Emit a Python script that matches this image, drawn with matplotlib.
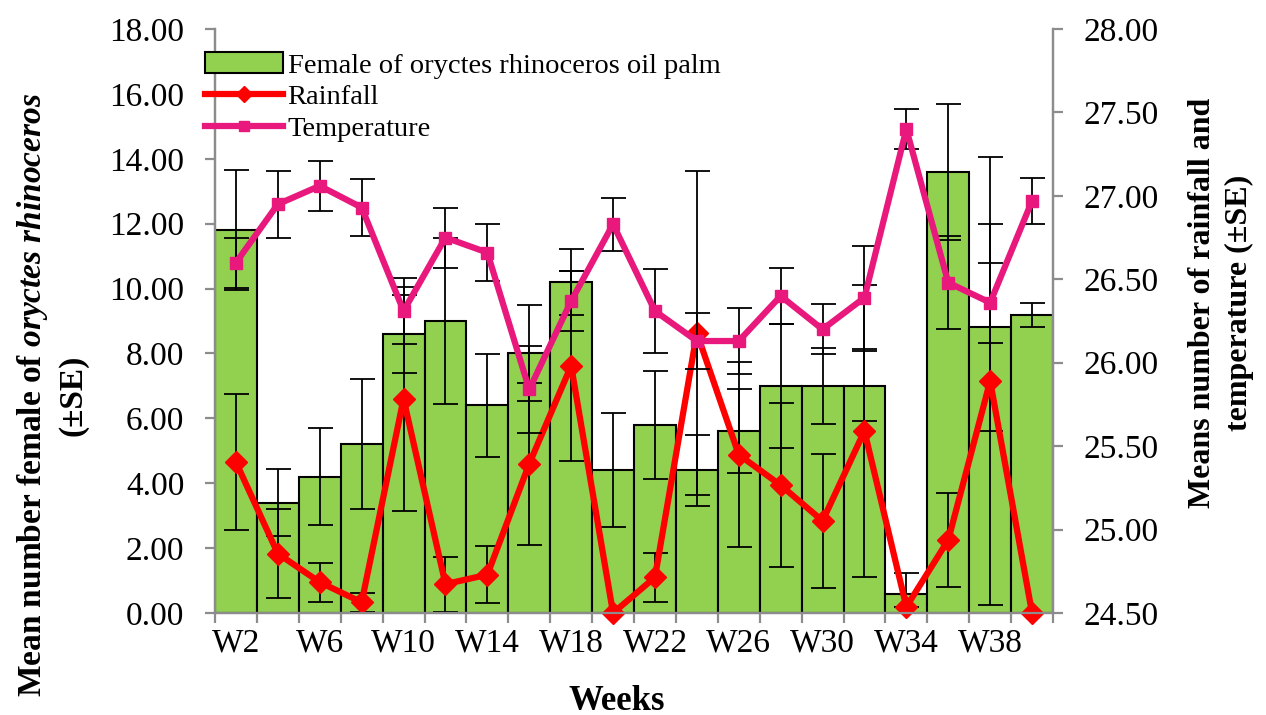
import matplotlib
matplotlib.use("Agg")
import matplotlib.pyplot as plt
import numpy as np
from matplotlib.lines import Line2D
from matplotlib.patches import Patch

plt.rcParams["font.family"] = ["Liberation Serif", "DejaVu Serif"]
plt.rcParams["mathtext.fontset"] = "custom"
plt.rcParams["mathtext.rm"] = "Liberation Serif"
plt.rcParams["mathtext.it"] = "Liberation Serif:italic"
plt.rcParams["mathtext.bf"] = "Liberation Serif:bold"
plt.rcParams["mathtext.bfit"] = "Liberation Serif:italic:bold"

weeks = [f"W{w}" for w in range(2, 41, 2)]

female = [11.8, 3.4, 4.2, 5.2, 8.6, 9.0, 6.4, 8.0, 10.2, 4.4,
          5.8, 4.4, 5.6, 7.0, 7.0, 7.0, 0.6, 13.6, 8.8, 9.2]
female_se = [1.85, 1.03, 1.5, 2.0, 1.2, 2.56, 1.58, 1.48, 1.03, 1.75,
             1.67, 1.1, 1.3, 1.9, 1.17, 1.07, 0.62, 2.1, 3.2, 0.37]

rainfall = [4.65, 1.83, 0.95, 0.33, 6.6, 0.89, 1.18, 4.6, 7.62, 0.0,
            1.1, 8.63, 4.88, 3.94, 2.84, 5.61, 0.19, 2.25, 7.15, 0.0]
rainfall_se = [2.1, 1.38, 0.6, 0.3, 3.45, 0.85, 0.88, 2.5, 2.92, 0.0,
               0.75, 5.0, 2.85, 2.52, 2.07, 4.5, 0.0, 1.45, 6.9, 0.0]

temperature = [26.60, 26.95, 27.06, 26.93, 26.31, 26.75, 26.66, 25.84, 26.37, 26.83,
               26.31, 26.13, 26.13, 26.40, 26.20, 26.39, 27.40, 26.48, 26.36, 26.97]
temperature_se = [0.15, 0.2, 0.15, 0.17, 0.2, 0.18, 0.17, 0.26, 0.18, 0.16,
                  0.25, 0.17, 0.2, 0.17, 0.15, 0.31, 0.12, 0.28, 0.24, 0.14]

left_ticks = np.arange(0, 18.01, 2)
right_ticks = np.arange(24.5, 28.01, 0.5)

GREEN = "#92D050"
RED = "#FF0000"
PINK = "#E8187C"
GREY = "#8C8C8C"

W, H = 1266, 715
fig = plt.figure(figsize=(W / 100, H / 100), dpi=100)
ax = fig.add_axes([215 / W, 1 - 613 / H, 838 / W, 584 / H])

x = np.arange(len(weeks))
err_kw = dict(fmt="none", ecolor="black", elinewidth=1.3, capsize=9, capthick=1.3)

ax.bar(x, female, width=1.0, color=GREEN, edgecolor="black", linewidth=1.5, zorder=2)
ax.errorbar(x, female, yerr=female_se, zorder=3, **err_kw)
ax.errorbar(x, rainfall, yerr=rainfall_se, zorder=3, **err_kw)
ax.plot(x, rainfall, color=RED, linewidth=4.5, marker="D", markersize=11,
        clip_on=False, zorder=5)

ax.set_xlim(-0.5, len(weeks) - 0.5)
ax.set_ylim(0, 18)
ax.set_yticks(left_ticks)
ax.set_yticklabels([f"{v:.2f}" for v in left_ticks])

ax.set_xticks(np.arange(-0.5, len(weeks), 1))
ax.set_xticklabels([])
ax.set_xticks(x[::2], minor=True)
ax.set_xticklabels(weeks[::2], minor=True)
ax.tick_params(axis="x", which="major", direction="out", length=7, width=1.6, color=GREY)
ax.tick_params(axis="x", which="minor", length=0, pad=11, labelsize=24)
ax.tick_params(axis="y", direction="out", length=7, width=1.6, color=GREY,
               labelsize=24, pad=15)

ax2 = ax.twinx()
ax2.errorbar(x, temperature, yerr=temperature_se, zorder=3, **err_kw)
ax2.plot(x, temperature, color=PINK, linewidth=4.5, marker="s", markersize=8,
         clip_on=False, zorder=5)
ax2.set_ylim(24.5, 28)
ax2.set_yticks(right_ticks)
ax2.set_yticklabels([f"{v:.2f}" for v in right_ticks])
ax2.tick_params(axis="y", direction="out", length=7, width=1.6, color=GREY,
                labelsize=24, pad=15)

for a in (ax, ax2):
    a.spines["top"].set_visible(False)
    for side in ("left", "right", "bottom"):
        a.spines[side].set_color(GREY)
        a.spines[side].set_linewidth(1.6)

handles = [
    Patch(facecolor=GREEN, edgecolor="black", linewidth=1.5),
    Line2D([], [], color=RED, linewidth=4.5, marker="D", markersize=8),
    Line2D([], [], color=PINK, linewidth=4.5, marker="s", markersize=7),
]
labels = ["Female of oryctes rhinoceros oil palm", "Rainfall", "Temperature"]
ax2.legend(handles, labels, loc="upper left", bbox_to_anchor=(-0.012, 0.96),
           frameon=False, fontsize=20.5, handlelength=2.75, handleheight=0.75,
           handletextpad=0.15, labelspacing=0.18, borderpad=0, borderaxespad=0)

fig.text(52 / W, 1 - 395 / H,
         "Mean number female of $\\mathbfit{oryctes\\ rhinoceros}$\n(±SE)",
         rotation=90, ha="center", va="center", multialignment="center",
         fontsize=24, fontweight="bold", linespacing=1.3)
fig.text(1221 / W, 1 - 303 / H, "Means number of rainfall and\ntemperature (±SE)",
         rotation=90, ha="center", va="center", multialignment="center",
         fontsize=23, fontweight="bold", linespacing=1.35)
fig.text(617 / W, 1 - 701 / H, "Weeks", ha="center", va="center",
         fontsize=25, fontweight="bold")

fig.savefig("out.png", dpi=100)
